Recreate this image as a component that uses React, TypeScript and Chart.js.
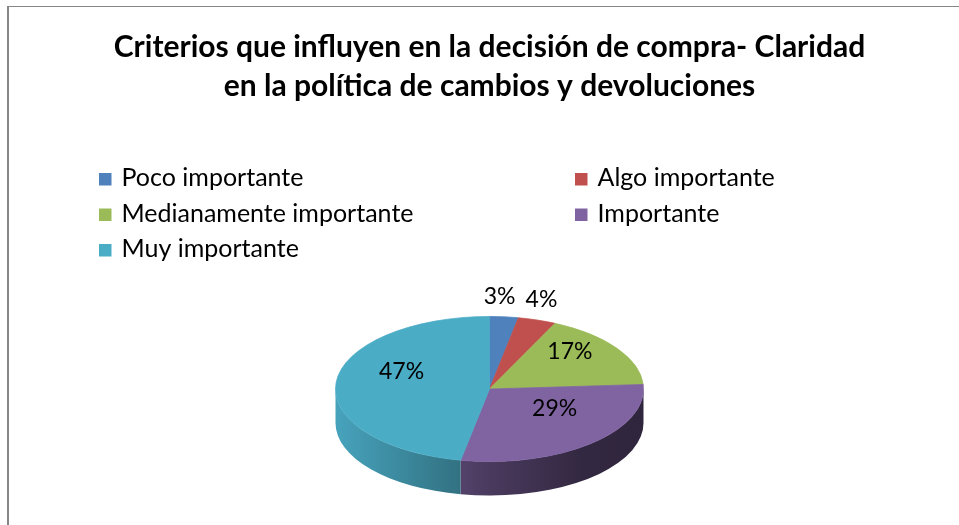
import React, { useEffect, useRef } from "react";
import { Chart, registerables } from "chart.js";

Chart.register(...registerables);

const TITLE_LINES = [
  "Criterios que influyen en la decisión de compra- Claridad",
  "en la política de cambios y devoluciones",
];
const CATEGORIES = [
  "Poco importante",
  "Algo importante",
  "Medianamente importante",
  "Importante",
  "Muy importante",
];
const VALUES = [3, 4, 17, 29, 47];
const COLORS = ["#4F81BD", "#C0504D", "#9BBB59", "#8064A2", "#4BACC6"];

const FONT = "Lato";
const SQUASH = 0.471;
const DEPTH = 34;
const LABEL_SIZE = 23;
const LEGEND_SIZE = 25;

function shade(hex: string, f: number): string {
  const n = parseInt(hex.slice(1), 16);
  const r = Math.round(((n >> 16) & 255) * f);
  const g = Math.round(((n >> 8) & 255) * f);
  const b = Math.round((n & 255) * f);
  return `rgb(${r},${g},${b})`;
}

const pie3d = {
  id: "pie3d",
  beforeDatasetsDraw(chart: any) {
    const meta = chart.getDatasetMeta(0);
    const arcs = meta.data;
    const ctx = chart.ctx as CanvasRenderingContext2D;
    if (!arcs.length) return;
    const cx = arcs[0].x;
    const cy = arcs[0].y;
    const rx = arcs[0].outerRadius;
    const ry = rx * SQUASH;
    ctx.save();
    arcs.forEach((arc: any, i: number) => {
      const a1 = Math.max(arc.startAngle, 0);
      const a2 = Math.min(arc.endAngle, Math.PI);
      if (a2 <= a1) return;
      const base = COLORS[i];
      const g = ctx.createLinearGradient(cx - rx, 0, cx + rx, 0);
      g.addColorStop(0, shade(base, 0.95));
      g.addColorStop(0.4, shade(base, 0.66));
      g.addColorStop(0.5, shade(base, 0.58));
      g.addColorStop(0.8, shade(base, 0.4));
      g.addColorStop(1, shade(base, 0.37));
      ctx.beginPath();
      ctx.ellipse(cx, cy, rx, ry, 0, a1, a2, false);
      ctx.ellipse(cx, cy + DEPTH, rx, ry, 0, a2, a1, true);
      ctx.closePath();
      ctx.fillStyle = g;
      ctx.fill();
    });
    ctx.restore();
    ctx.save();
    ctx.translate(cx, cy);
    ctx.scale(1, SQUASH);
    ctx.translate(-cx, -cy);
  },
  afterDatasetsDraw(chart: any) {
    const ctx = chart.ctx as CanvasRenderingContext2D;
    ctx.restore();
    const meta = chart.getDatasetMeta(0);
    const arcs = meta.data;
    if (!arcs.length) return;
    const cx = arcs[0].x;
    const cy = arcs[0].y;
    const rx = arcs[0].outerRadius;
    const ry = rx * SQUASH;
    const values: number[] = chart.data.datasets[0].data;
    const total = values.reduce((a, b) => a + b, 0);
    ctx.save();
    ctx.font = `${LABEL_SIZE}px ${FONT}`;
    ctx.fillStyle = "#000";
    ctx.textAlign = "center";
    ctx.textBaseline = "alphabetic";
    const outs: { t: string; x: number; y: number; w: number }[] = [];
    arcs.forEach((arc: any, i: number) => {
      const frac = values[i] / total;
      const t = Math.round(frac * 100) + "%";
      const mid = (arc.startAngle + arc.endAngle) / 2;
      if (frac < 0.05) {
        outs.push({
          t,
          x: cx + rx * Math.cos(mid),
          y: cy + ry * Math.sin(mid) - 21,
          w: ctx.measureText(t).width,
        });
      } else {
        const x = cx + 0.6 * rx * Math.cos(mid) + 4;
        const y = cy + 0.6 * ry * Math.sin(mid) - 14;
        ctx.fillText(t, x, y + LABEL_SIZE * 0.36);
      }
    });
    outs.sort((a, b) => a.x - b.x);
    for (let k = 1; k < outs.length; k++) {
      const a = outs[k - 1];
      const b = outs[k];
      const need = (a.w + b.w) / 2 + 10;
      if (b.x - a.x < need) {
        const d = (need - (b.x - a.x)) / 2;
        a.x -= d;
        b.x += d;
      }
    }
    outs.forEach((o) => ctx.fillText(o.t, o.x, o.y + LABEL_SIZE * 0.36));
    ctx.restore();
  },
  afterDraw(chart: any) {
    const ctx = chart.ctx as CanvasRenderingContext2D;
    const labels: string[] = chart.data.labels;
    const colX = [99, 575];
    const baseY = 186;
    const rowGap = 35.5;
    ctx.save();
    ctx.font = `${LEGEND_SIZE}px ${FONT}`;
    ctx.textBaseline = "alphabetic";
    ctx.textAlign = "left";
    labels.forEach((lab, i) => {
      const x = colX[i % 2];
      const y = baseY + Math.floor(i / 2) * rowGap;
      ctx.fillStyle = COLORS[i];
      ctx.fillRect(x, y - 13, 12.5, 12.5);
      ctx.fillStyle = "#000";
      ctx.fillText(lab, x + 22.5, y);
    });
    ctx.restore();
  },
};

export default function App() {
  const ref = useRef<HTMLCanvasElement | null>(null);
  useEffect(() => {
    if (!ref.current) return;
    const chart = new Chart(ref.current, {
      type: "pie",
      data: {
        labels: CATEGORIES,
        datasets: [
          {
            data: VALUES,
            backgroundColor: COLORS,
            borderColor: COLORS,
            borderWidth: 1,
            radius: 154,
            clip: false,
          } as any,
        ],
      },
      options: {
        responsive: false,
        animation: false,
        events: [],
        layout: { padding: { left: 20, right: 0, top: 8, bottom: 3 } },
        plugins: {
          legend: { display: false },
          tooltip: { enabled: false },
          title: {
            display: true,
            text: TITLE_LINES,
            color: "#000",
            font: { family: FONT, size: 30, weight: "bold", lineHeight: 1.3 },
            padding: { top: 19.5, bottom: 150.5 },
          },
        },
      },
      plugins: [pie3d],
    });
    return () => chart.destroy();
  }, []);
  return (
    <div
      style={{
        position: "fixed",
        left: 0,
        top: 0,
        width: 959,
        height: 525,
        overflow: "hidden",
        background: "#fff",
      }}
    >
      <div
        style={{
          position: "absolute",
          left: 7,
          top: 6,
          width: 980,
          height: 600,
          borderTop: "1px solid #868686",
          borderLeft: "2px solid #868686",
        }}
      />
      <canvas
        ref={ref}
        width={959}
        height={525}
        style={{ position: "absolute", left: 0, top: 0, width: 959, height: 525 }}
      />
    </div>
  );
}
